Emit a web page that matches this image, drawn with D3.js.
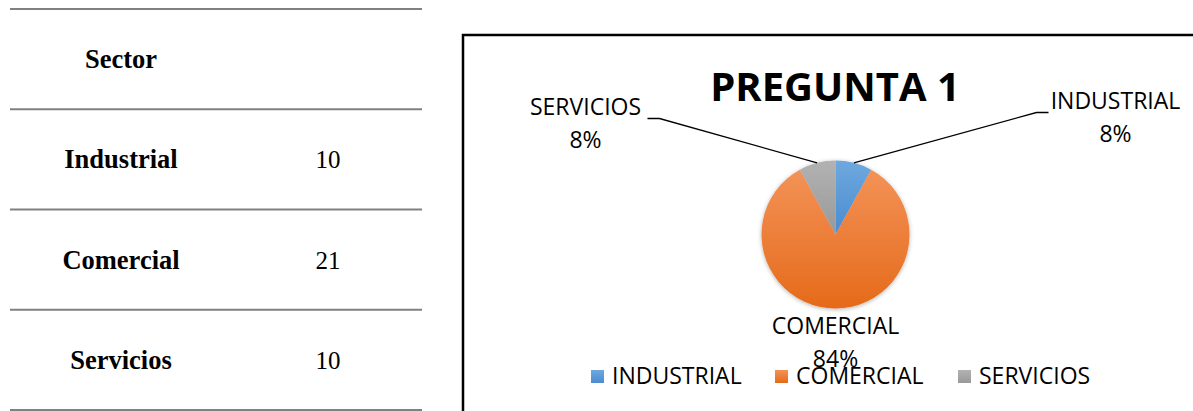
<!DOCTYPE html>
<html>
<head>
<meta charset="utf-8">
<script src="https://cdn.jsdelivr.net/npm/d3@7"></script>
<style>
  body { margin: 0; background: #fff; }
  svg { display: block; }
</style>
</head>
<body>
<div id="chart"></div>
<script>
// table data
const sectors = ["Industrial", "Comercial", "Servicios"];
const sectorCounts = [10, 21, 10];

// pie data
const categories = ["INDUSTRIAL", "COMERCIAL", "SERVICIOS"];
const shares = [8, 84, 8];
const colors = [["#6ea8de", "#4a8cd0"], ["#f39257", "#e56a1a"], ["#b2b2b2", "#999999"]];

const W = 1193, H = 411;

const svg = d3.select("#chart").append("svg")
    .attr("width", W)
    .attr("height", H);

// ---- table on the left ----
const rowY = d3.scaleBand()
    .domain(["Sector"].concat(sectors))
    .range([9, 410]);

const table = svg.append("g");

table.selectAll("line.rule")
    .data(rowY.domain().concat(["_end"]))
    .join("line")
    .attr("class", "rule")
    .attr("x1", 10).attr("x2", 422)
    .attr("y1", (d, i) => i < 4 ? rowY(d) : 410)
    .attr("y2", (d, i) => i < 4 ? rowY(d) : 410)
    .attr("stroke", "#808080")
    .attr("stroke-width", 2);

table.append("text")
    .attr("x", 121)
    .attr("y", rowY("Sector") + rowY.bandwidth() / 2 + 9)
    .attr("text-anchor", "middle")
    .style("font", "bold 26.5px 'Liberation Serif', serif")
    .text("Sector");

table.selectAll("text.name")
    .data(sectors)
    .join("text")
    .attr("class", "name")
    .attr("x", 121)
    .attr("y", d => rowY(d) + rowY.bandwidth() / 2 + 9)
    .attr("text-anchor", "middle")
    .style("font", "bold 26.5px 'Liberation Serif', serif")
    .text(d => d);

table.selectAll("text.val")
    .data(sectors)
    .join("text")
    .attr("class", "val")
    .attr("x", 328)
    .attr("y", d => rowY(d) + rowY.bandwidth() / 2 + 9)
    .attr("text-anchor", "middle")
    .style("font", "25px 'Liberation Serif', serif")
    .text((d, i) => sectorCounts[i]);

// ---- chart box ----
svg.append("rect")
    .attr("x", 463).attr("y", 35)
    .attr("width", 800).attr("height", 420)
    .attr("fill", "#fff")
    .attr("stroke", "#000")
    .attr("stroke-width", 2.5);

svg.append("text")
    .attr("x", 835).attr("y", 101)
    .attr("text-anchor", "middle")
    .style("font", "bold 40px 'Open Sans', sans-serif")
    .text("PREGUNTA 1");

// gradients
const defs = svg.append("defs");
colors.forEach((c, i) => {
    const g = defs.append("linearGradient")
        .attr("id", "grad" + i)
        .attr("x1", 0).attr("y1", 0).attr("x2", 0).attr("y2", 1);
    g.append("stop").attr("offset", "0%").attr("stop-color", c[0]);
    g.append("stop").attr("offset", "100%").attr("stop-color", c[1]);
});
const shadow = defs.append("filter").attr("id", "shadow")
    .attr("x", "-20%").attr("y", "-20%").attr("width", "140%").attr("height", "140%");
shadow.append("feDropShadow")
    .attr("dx", 0).attr("dy", 1).attr("stdDeviation", 2)
    .attr("flood-color", "#000").attr("flood-opacity", 0.3);

const cx = 835.5, cy = 234.5, r = 74;
const pie = d3.pie().sort(null).value(d => d)(shares);
const arc = d3.arc().innerRadius(0).outerRadius(r);

const pieG = svg.append("g")
    .attr("transform", `translate(${cx},${cy})`);

pieG.append("g")
    .attr("filter", "url(#shadow)")
    .selectAll("path")
    .data(pie)
    .join("path")
    .attr("d", arc)
    .attr("fill", (d, i) => `url(#grad${i})`)
    .attr("stroke", "none");

// labels (offsets relative to pie center)
const labelPos = [
    { tx: 280, ty: -126, ex: 201, ey: -122, side: "right" },
    { tx: 0, ty: 99, side: "none" },
    { tx: -250, ty: -120, ex: -176, ey: -116, side: "left" }
];
const total = d3.sum(shares);
const pct = d3.format(".0%");

pie.forEach((d, i) => {
    const p = labelPos[i];
    if (p.side !== "none") {
        const mid = (d.startAngle + d.endAngle) / 2;
        const sx = Math.sin(mid) * r, sy = -Math.cos(mid) * r;
        const hx = p.side === "right" ? p.ex + 12 : p.ex - 12;
        pieG.append("polyline")
            .attr("points", [[sx, sy], [p.ex, p.ey], [hx, p.ey]].map(q => q.join(",")).join(" "))
            .attr("fill", "none")
            .attr("stroke", "#000")
            .attr("stroke-width", 1.3);
    }
    const t = pieG.append("text")
        .attr("text-anchor", "middle")
        .style("font", "23px 'Open Sans', sans-serif")
        .attr("fill", "#000");
    t.append("tspan").attr("x", p.tx).attr("y", p.ty).text(categories[i]);
    t.append("tspan").attr("x", p.tx).attr("y", p.ty + 33).text(pct(d.value / total));
});

// legend
const legendOffsets = [0, 184, 367];

const legend = svg.append("g")
    .selectAll("g")
    .data(categories)
    .join("g")
    .attr("transform", (d, i) => `translate(${591 + legendOffsets[i]},370)`);

legend.append("rect")
    .attr("width", 13).attr("height", 13)
    .attr("fill", (d, i) => `url(#grad${i})`);

legend.append("text")
    .attr("x", 21).attr("y", 14)
    .style("font", "23px 'Open Sans', sans-serif")
    .attr("fill", "#000")
    .text(d => d);
</script>
</body>
</html>
